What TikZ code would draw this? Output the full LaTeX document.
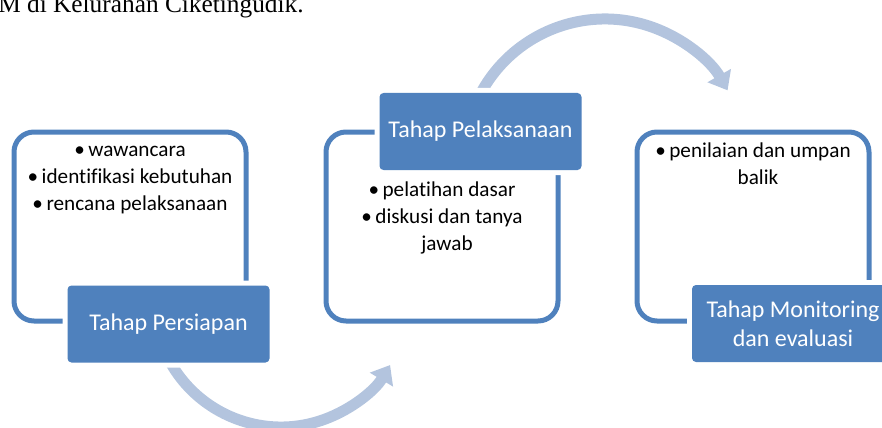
\documentclass[tikz,border=0pt]{standalone}
\usepackage{fontspec}
\setmainfont{Carlito}[Ligatures=NoCommon]
\newfontfamily\timesfont{Liberation Serif}
\usetikzlibrary{arrows.meta}
\definecolor{stageblue}{RGB}{79,129,189}
\definecolor{cycleblue}{RGB}{179,196,222}

\begin{document}
\begin{tikzpicture}[x=0.75pt,y=0.75pt] %% 1 unit = 1 px
		\tikzstyle{stageframe}=[draw=stageblue,line width=3.75pt,rounded corners=15pt,minimum width=174pt,minimum height=141.75pt]
		\tikzstyle{stagelabel}=[fill=stageblue,rounded corners=3pt,minimum width=151.5pt,minimum height=57.75pt,text=white,align=center,font=\fontsize{18}{22}\selectfont,preaction={draw=white,line width=7.5pt}]
		\tikzstyle{items}=[align=center,inner sep=0pt,font=\fontsize{15.9}{19.9}\selectfont]
		\tikzstyle{cyclearrow}=[draw=cycleblue,line width=8.25pt,-{Triangle[length=12.75pt,width=19.5pt]}]
		%% page
		\clip (0,0) rectangle (882,-428);
		\node[anchor=base west,inner sep=0pt,font=\timesfont\fontsize{19}{22}\selectfont] (prevline) at (-2,-12.5) {M di Kelurahan Ciketingudik.};
		%% frames
		\node[stageframe] (persiapanframe) at (130,-226.5) {};
		\node[stageframe] (pelaksanaanframe) at (442,-226.5) {};
		\node[stageframe] (monitoringframe) at (753,-226.5) {};
		%% items (base = last line)
		\node[items,anchor=base] (persiapanitems) at (130,-210) {•\,wawancara\\•\,identifikasi kebutuhan\\•\,rencana pelaksanaan};
		\node[items,anchor=base] (pelaksanaanitems) at (442,-250) {•\,pelatihan dasar\\•\,diskusi dan tanya\\\hspace*{7.5pt}jawab};
		\node[items,anchor=base] (monitoringitems) at (753,-184) {•\,penilaian dan umpan\\\hspace*{7.5pt}balik};
		%% arrows
		\coordinate (lowhub) at (281,-300);
		\coordinate (highhub) at (605,-160);
		\draw[cyclearrow] (lowhub) ++(-160:127) arc[start angle=-160,end angle=-30.8,radius=127];
		\draw[cyclearrow] (highhub) ++(160:141) arc[start angle=160,end angle=29.6,radius=141];
		%% labels
		\node[stagelabel] (persiapan) at (168.5,-324) {Tahap Persiapan};
		\node[stagelabel] (pelaksanaan) at (480.5,-131.5) {Tahap Pelaksanaan};
		\node[stagelabel] (monitoring) at (793,-323.5) {Tahap Monitoring\\dan evaluasi};
	\end{tikzpicture}
\end{document}
